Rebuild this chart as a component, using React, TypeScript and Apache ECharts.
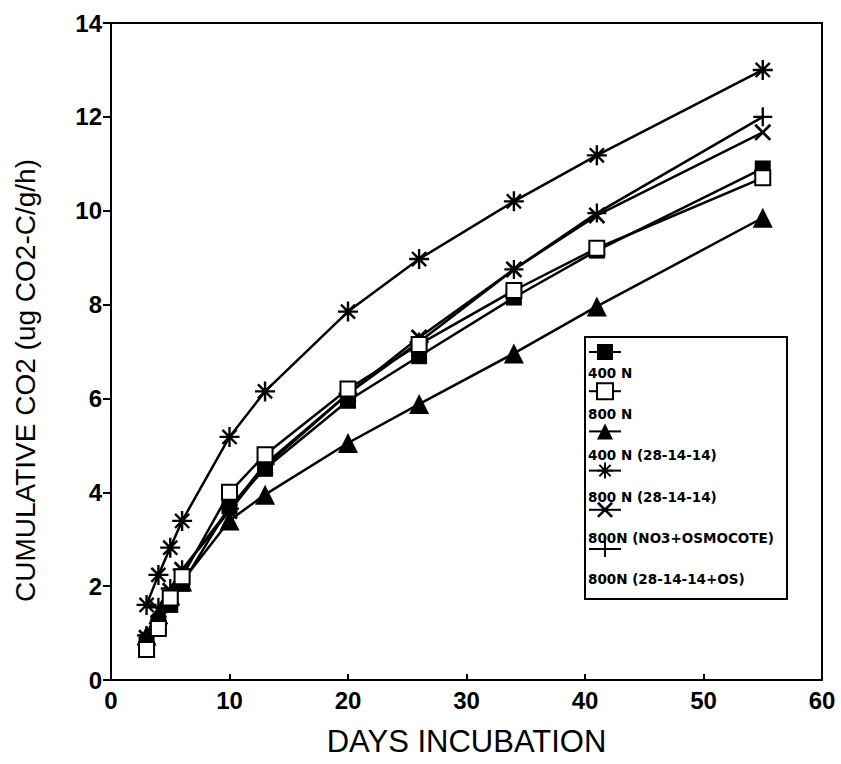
import React, { useEffect, useRef } from 'react';
import * as echarts from 'echarts';

const days = [3, 4, 5, 6, 10, 13, 20, 26, 34, 41, 55];
const seriesNames = [
  '400 N',
  '800 N',
  '400 N (28-14-14)',
  '800 N (28-14-14)',
  '800N (NO3+OSMOCOTE)',
  '800N (28-14-14+OS)',
];
const n400 = [0.8, 1.2, 1.6, 2.05, 3.7, 4.5, 5.95, 6.9, 8.15, 9.15, 10.9];
const n800 = [0.65, 1.1, 1.75, 2.2, 4.0, 4.8, 6.2, 7.15, 8.3, 9.2, 10.7];
const n400ff = [0.95, 1.4, 1.8, 2.1, 3.4, 3.95, 5.05, 5.88, 6.96, 7.96, 9.85];
const n800ff = [1.6, 2.24, 2.82, 3.39, 5.18, 6.15, 7.85, 8.97, 10.2, 11.18, 13.0];
const n800no3os = [0.9, 1.5, 1.9, 2.35, 3.6, 4.55, 6.1, 7.3, 8.75, 9.9, 11.67];
const n800ffos = [0.95, 1.55, 1.95, 2.35, 3.65, 4.6, 6.1, 7.2, 8.75, 9.95, 12.0];
const seriesValues = [n400, n800, n400ff, n800ff, n800no3os, n800ffos];

const xMin = 0, xMax = 60, xStep = 10;
const yMin = 0, yMax = 14, yStep = 2;
const xTitle = 'DAYS INCUBATION';
const yTitle = 'CUMULATIVE CO2 (ug CO2-C/g/h)';

function barPath(angleDeg: number, L: number, w: number): string {
  const a = (angleDeg * Math.PI) / 180;
  const dx = Math.cos(a) * L, dy = Math.sin(a) * L;
  const px = -Math.sin(a) * w, py = Math.cos(a) * w;
  const pts = [
    [dx + px, dy + py],
    [dx - px, dy - py],
    [-dx - px, -dy - py],
    [-dx + px, -dy + py],
  ];
  return 'M' + pts.map((p) => p[0].toFixed(2) + ' ' + p[1].toFixed(2)).join(' L') + ' Z';
}
const asteriskPath = 'path://' + [0, 45, 90, 135].map((a) => barPath(a, 10, 1.2)).join(' ');
const crossPath = 'path://' + [45, 135].map((a) => barPath(a, 10, 1.3)).join(' ');
const plusPath = 'path://' + [0, 90].map((a) => barPath(a, 10, 1.2)).join(' ');

const symbols = ['rect', 'emptyRect', 'triangle', asteriskPath, crossPath, plusPath];
const symbolSizes = [16, 15, 20, 20, 17, 19];

const LEGEND_X = 588;
const LEGEND_ICON_Y0 = 352;
const LEGEND_STEP = 41.2;

export default function App() {
  const ref = useRef<HTMLDivElement>(null);
  useEffect(() => {
    if (!ref.current) return;
    const chart = echarts.init(ref.current, undefined, { renderer: 'svg' });
    const series = seriesNames.map((name, i) => ({
      name,
      type: 'line',
      data: days.map((d, j) => [d, seriesValues[i][j]]),
      symbol: symbols[i],
      symbolSize: symbolSizes[i],
      showAllSymbol: true,
      lineStyle: { color: '#000', width: 2.5 },
      itemStyle: { color: '#000', borderColor: '#000', borderWidth: i === 1 ? 2 : 0 },
      z: i === 1 ? 3 : 2,
    }));
    const legendTexts = seriesNames.map((name, i) => ({
      type: 'text',
      left: LEGEND_X,
      top: LEGEND_ICON_Y0 + LEGEND_STEP * i + 14,
      style: {
        text: name,
        fontFamily: 'DejaVu Sans',
        fontWeight: 'bold',
        fontSize: 13.5,
        fill: '#000',
      },
      z: 10,
    }));
    chart.setOption({
      animation: false,
      backgroundColor: '#fff',
      grid: {
        left: 111,
        right: 19,
        top: 23,
        bottom: 84,
        show: true,
        borderColor: '#000',
        borderWidth: 2,
      },
      xAxis: {
        type: 'value',
        min: xMin,
        max: xMax,
        interval: xStep,
        name: xTitle,
        nameLocation: 'middle',
        nameGap: 46,
        nameTextStyle: { fontFamily: 'Liberation Sans', fontSize: 31, color: '#000' },
        axisLine: { show: true, lineStyle: { color: '#000', width: 2 } },
        axisTick: { show: true, inside: true, length: 6, lineStyle: { color: '#000', width: 2 } },
        axisLabel: { fontFamily: 'Liberation Sans', fontWeight: 'bold', fontSize: 24, color: '#000', margin: 8 },
        splitLine: { show: false },
      },
      yAxis: {
        type: 'value',
        min: yMin,
        max: yMax,
        interval: yStep,
        name: yTitle,
        nameLocation: 'middle',
        nameGap: 72,
        nameTextStyle: {
          fontFamily: 'Liberation Sans',
          fontSize: 28,
          color: '#000',
          padding: [0, 58, 0, 0],
        },
        axisLine: { show: true, lineStyle: { color: '#000', width: 2 } },
        axisTick: { show: true, inside: false, length: 8, lineStyle: { color: '#000', width: 2 } },
        axisLabel: { fontFamily: 'Liberation Sans', fontWeight: 'bold', fontSize: 24, color: '#000', margin: 9 },
        splitLine: { show: false },
      },
      legend: {
        orient: 'vertical',
        left: LEGEND_X,
        top: LEGEND_ICON_Y0 - 10,
        padding: 0,
        itemWidth: 32,
        itemHeight: 20,
        itemGap: LEGEND_STEP - 20,
        data: seriesNames,
        selectedMode: false,
        formatter: () => '',
        textStyle: { fontSize: 1 },
      },
      graphic: [
        {
          type: 'rect',
          shape: { x: 585, y: 337, width: 202, height: 262 },
          style: { fill: 'none', stroke: '#000', lineWidth: 2 },
          z: 1,
        },
        ...legendTexts,
      ],
      series,
    });
    return () => chart.dispose();
  }, []);
  return <div ref={ref} style={{ position: 'absolute', left: 0, top: 0, width: 841, height: 764 }} />;
}
